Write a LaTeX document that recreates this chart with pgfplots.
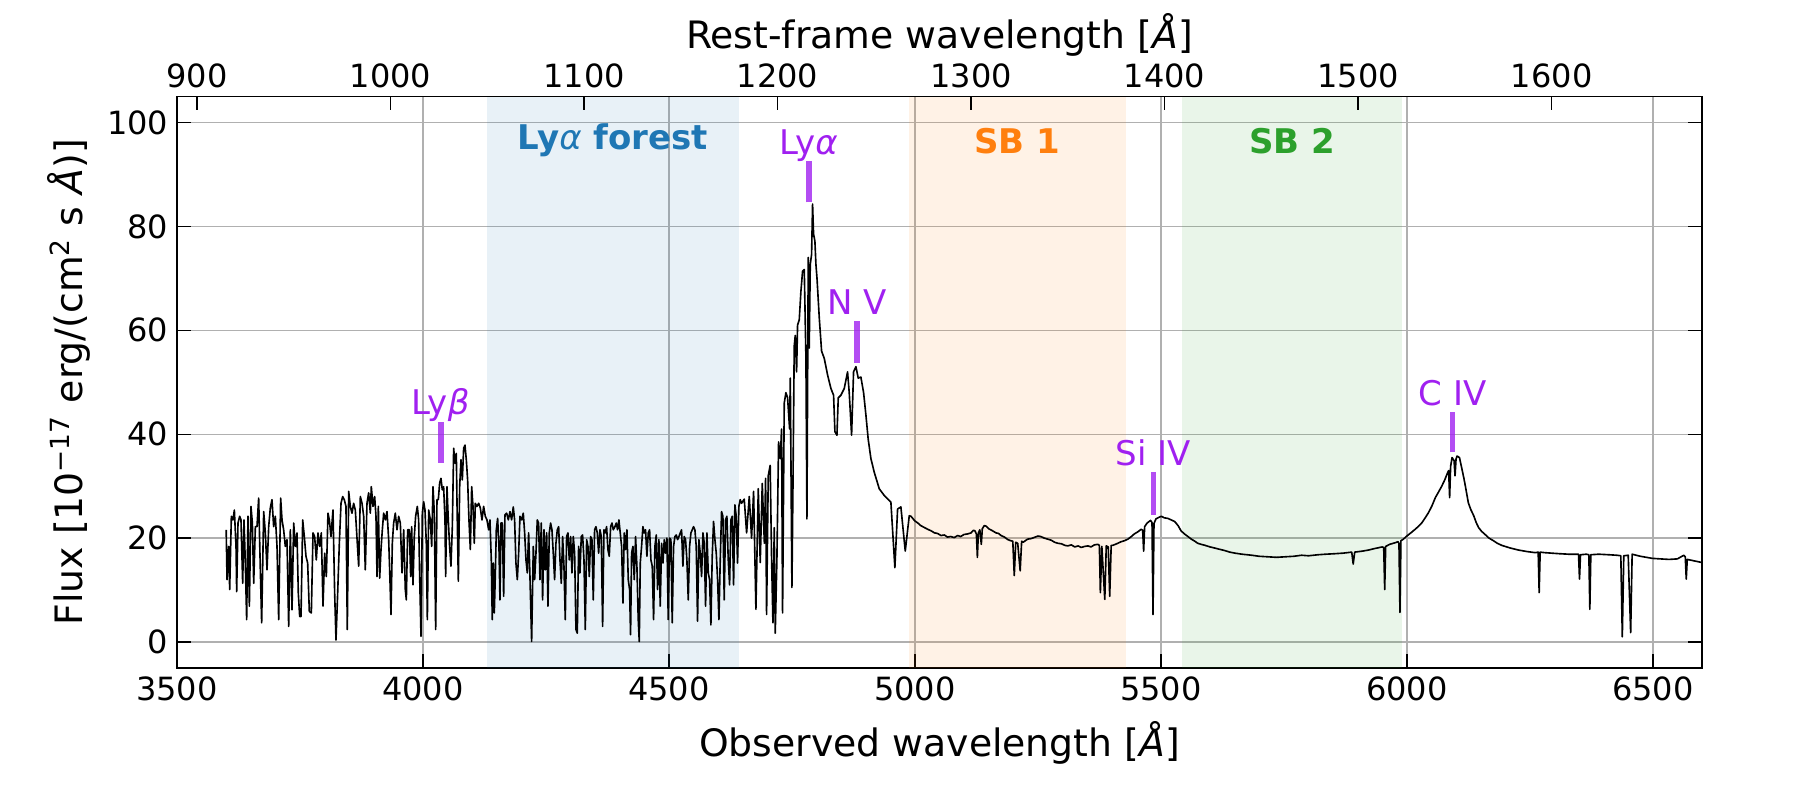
\documentclass[border=0pt]{standalone}
\usepackage{fontspec}
\setmainfont{DejaVu Sans}
\usepackage{pgfplots}
\pgfplotsset{compat=1.18}
\usepackage{pgfplotstable}
\definecolor{tabblue}{HTML}{1F77B4}
\definecolor{taborange}{HTML}{FF7F0E}
\definecolor{tabgreen}{HTML}{2CA02C}
\definecolor{lpurple}{HTML}{A020F0}
\definecolor{gridgray}{HTML}{B0B0B0}

\pgfplotstableread{
lam flux
3600 21.6
3601.7 12.0
3605.1 18.4
3607.1 10.1
3610.5 24.2
3613.9 23.5
3616.6 25.4
3620.0 18.4
3621.3 9.7
3624.0 22.9
3627.4 24.2
3630.1 23.5
3633.5 11.3
3636.2 23.5
3638.9 15.2
3641.6 4.3
3644.3 24.2
3647.1 6.9
3650.4 26.1
3653.2 22.9
3655.9 11.3
3659.3 22.2
3662.6 22.2
3666.0 27.7
3669.4 13.9
3672.1 3.7
3676.2 25.1
3679.6 21.0
3683.0 13.9
3686.4 22.2
3689.7 25.8
3693.1 27.4
3696.5 22.2
3699.9 24.2
3703.3 18.4
3706.7 4.3
3710.7 27.7
3713.5 23.5
3716.8 21.6
3720.2 18.4
3723.6 19.7
3727.0 3.0
3730.4 21.6
3733.8 6.2
3737.2 22.9
3740.6 18.4
3743.9 21.0
3746.6 9.4
3749.4 4.9
3752.1 4.9
3755.5 23.5
3758.8 20.3
3762.2 16.5
3765.6 15.2
3769.0 5.9
3773.1 5.6
3776.5 21.0
3779.8 20.3
3783.2 15.8
3786.6 21.0
3790.0 18.4
3793.4 21.0
3796.8 6.9
3800.2 17.1
3803.6 12.6
3806.9 24.8
3809.7 23.5
3813.0 20.3
3817.1 25.4
3820.5 9.4
3823.2 0.4
3826.6 9.4
3830.0 19.0
3833.4 26.7
3836.8 28.0
3840.1 27.4
3843.5 26.1
3846.2 2.4
3849.0 29.0
3852.3 26.1
3855.7 24.8
3859.1 26.7
3862.5 25.4
3869.3 14.6
3872.7 28.0
3876.1 26.7
3879.5 24.2
3882.8 13.9
3886.2 26.7
3889.6 28.7
3893.0 24.8
3895.0 29.9
3898.4 26.1
3901.8 28.0
3904.5 24.2
3906.6 12.6
3909.3 26.1
3912.0 12.3
3914.7 17.8
3917.4 21.6
3920.1 24.8
3923.5 23.5
3926.9 25.1
3930.3 19.7
3932.3 13.9
3935.0 5.3
3937.7 19.0
3940.4 22.9
3943.8 24.8
3947.2 21.6
3950.6 24.2
3954.0 22.9
3957.4 13.3
3960.8 21.6
3964.1 10.1
3966.2 8.1
3968.9 21.6
3972.3 21.6
3975.0 12.6
3977.0 22.2
3979.7 11.0
3982.4 20.3
3985.1 24.2
3988.5 26.1
3991.2 23.5
3993.3 12.6
3996.0 1.1
3998.7 24.8
4001.4 27.0
4004.1 25.4
4006.8 19.0
4008.9 4.3
4011.6 25.4
4015.0 23.5
4017.7 18.4
4020.4 29.9
4023.1 24.8
4025.8 2.4
4028.5 27.4
4031.2 27.4
4033.9 30.6
4036.6 31.5
4039.3 29.3
4042.0 29.9
4044.8 23.5
4046.1 12.6
4048.8 29.9
4051.5 23.5
4054.2 18.4
4056.9 14.6
4059.7 22.2
4062.4 37.3
4065.1 34.4
4067.8 36.3
4069.2 26.7
4071.9 11.7
4074.6 29.9
4077.3 35.1
4080.0 31.2
4082.7 37.3
4085.4 37.9
4088.1 35.1
4090.8 31.2
4093.5 23.5
4096.3 17.8
4099.0 29.9
4101.7 26.1
4104.4 19.0
4106.4 26.7
4109.8 26.1
4113.2 26.7
4116.6 25.8
4120.0 23.5
4123.3 26.1
4126.7 24.2
4130.1 23.5
4133.5 21.6
4136.2 23.5
4138.9 15.8
4140.9 4.3
4143.0 15.2
4145.0 5.6
4147.0 12.6
4149.1 21.6
4151.8 23.8
4154.5 18.4
4156.5 8.1
4158.6 22.9
4161.3 22.9
4164.0 8.8
4166.7 24.5
4170.1 24.8
4173.5 23.5
4176.9 25.1
4180.2 23.5
4183.6 26.0
4186.3 23.5
4189.0 15.2
4191.8 12.0
4194.5 17.1
4197.2 24.2
4200.6 23.5
4203.9 24.8
4206.7 21.0
4209.4 15.8
4212.1 13.3
4214.8 21.0
4217.5 12.6
4220.9 0.1
4224.3 18.4
4227.0 12.0
4229.7 17.1
4232.4 23.5
4235.1 22.9
4237.8 12.0
4240.5 22.9
4243.2 8.1
4246.0 21.6
4248.7 13.9
4251.4 21.0
4254.1 6.9
4256.8 21.0
4259.5 22.9
4262.2 21.6
4264.9 17.1
4267.6 12.0
4270.3 19.0
4273.1 21.6
4275.8 22.2
4278.5 15.8
4281.2 11.3
4283.9 20.3
4286.6 14.6
4289.3 4.3
4292.0 20.3
4294.7 21.0
4297.4 15.8
4300.2 20.3
4302.9 13.3
4305.6 20.3
4308.3 17.1
4311.0 2.4
4313.7 1.7
4316.4 18.4
4319.1 13.3
4321.8 20.3
4324.5 20.6
4327.3 15.8
4330.0 2.4
4332.7 19.7
4335.4 18.4
4338.1 12.6
4340.8 20.3
4343.5 19.7
4346.2 8.1
4348.9 21.6
4351.6 22.2
4354.4 21.0
4357.1 17.1
4359.8 21.6
4362.5 20.3
4365.2 3.0
4367.9 21.6
4370.6 21.0
4373.3 22.2
4376.0 17.8
4378.7 16.5
4381.5 22.2
4384.2 22.9
4386.9 21.6
4390.2 22.2
4392.9 22.9
4395.6 21.6
4398.3 23.5
4401.0 21.0
4403.8 18.4
4406.5 7.5
4409.2 21.0
4411.9 17.8
4414.6 21.6
4417.3 12.0
4420.0 10.1
4422.0 1.4
4424.1 17.1
4426.8 18.4
4429.5 12.0
4432.2 20.3
4434.9 14.6
4437.6 4.3
4439.7 0.1
4441.7 15.2
4444.4 18.4
4447.1 22.2
4449.8 21.0
4452.5 21.6
4455.2 16.5
4458.0 21.0
4460.7 21.6
4463.4 15.8
4466.1 14.6
4468.8 4.3
4471.5 18.4
4474.2 20.6
4476.9 10.1
4479.6 19.7
4482.3 6.9
4485.1 19.0
4487.8 15.2
4490.5 19.7
4493.2 17.1
4495.9 20.0
4498.6 4.3
4501.3 20.0
4504.0 19.7
4506.7 3.7
4509.4 18.4
4512.2 20.3
4514.9 20.6
4517.6 19.7
4520.3 20.3
4523.0 21.0
4525.7 21.6
4528.4 14.6
4531.1 20.3
4533.8 19.7
4536.5 15.8
4539.3 8.1
4542.0 18.4
4544.7 21.0
4547.4 21.6
4550.1 22.2
4552.8 21.6
4555.5 18.4
4558.2 4.0
4560.9 19.7
4563.6 17.1
4566.4 12.6
4569.1 21.0
4571.8 19.0
4574.5 6.9
4577.2 21.0
4579.9 13.3
4582.6 12.0
4585.3 3.3
4588.0 16.5
4590.7 23.2
4593.5 19.7
4596.2 17.1
4598.9 12.0
4601.6 4.3
4604.3 15.8
4607.0 25.1
4609.7 24.2
4612.4 8.1
4615.1 23.5
4617.8 24.2
4620.6 15.8
4623.3 11.0
4626.0 23.5
4628.7 24.2
4631.4 11.0
4634.1 26.4
4636.8 24.2
4639.5 15.2
4642.2 26.1
4644.9 27.4
4647.6 26.7
4653.1 27.5
4657.9 21.0
4663.3 28.0
4668.0 20.0
4672.1 29.0
4676.8 6.3
4681.6 29.5
4685.6 15.3
4689.7 30.5
4694.0 19.0
4696.5 31.5
4698.5 5.3
4701.9 32.0
4705.8 34.0
4708.7 16.0
4711.4 3.7
4714.1 22.0
4716.1 1.7
4719.5 16.0
4722.9 38.5
4726.3 35.3
4729.0 41.0
4731.0 5.6
4734.4 46.0
4737.8 48.0
4741.2 47.0
4745.3 41.0
4746.7 50.8
4750.0 10.5
4752.0 28.8
4754.7 57.0
4756.8 59.0
4759.5 52.0
4761.5 61.0
4764.9 62.0
4768.3 67.5
4771.7 71.4
4775.1 71.7
4778.5 54.6
4780.5 23.7
4783.2 74.0
4785.2 56.6
4787.3 72.7
4790.0 74.6
4792.0 84.3
4794.0 78.5
4796.7 77.2
4798.8 72.7
4801.0 70.0
4805.6 62.4
4810.3 56.0
4815.7 54.6
4822.5 51.4
4829.3 48.8
4834.7 47.5
4837.4 40.5
4841.5 39.8
4844.2 47.0
4849.6 47.5
4856.4 48.8
4863.1 52.0
4866.5 48.0
4871.3 39.8
4875.3 52.0
4880.1 53.0
4884.8 50.8
4890.2 51.0
4895.7 48.0
4900.4 43.7
4905.1 39.0
4910.6 35.3
4917.3 32.7
4927.5 29.5
4937.7 28.2
4951.2 26.9
4959.3 14.3
4964.8 25.6
4971.5 26.0
4980.4 17.5
4988.5 24.3
4992 24.2
5000 23.3
5006 22.9
5012 22.4
5020 22.0
5026 21.7
5033 21.4
5040 21.0
5046 20.9
5053 20.5
5060 20.6
5066 20.2
5073 20.3
5080 20.1
5087 20.5
5093 20.3
5100 20.7
5107 20.8
5114 21.0
5119 21.5
5122 21.4
5125 20.8
5127 16.3
5129 21.0
5132 21.6
5135 18.8
5137 21.8
5141 22.4
5145 22.3
5150 21.8
5158 21.4
5165 21.0
5170 20.9
5175 20.5
5182 20.2
5189 19.7
5195 19.5
5199 19.4
5202 12.8
5205 19.2
5209 19.0
5214 13.7
5217 19.4
5220 19.2
5229 19.8
5236 19.9
5242 20.1
5250 20.4
5256 20.3
5263 20.0
5270 19.8
5277 19.6
5284 19.2
5291 19.0
5298 18.9
5305 18.6
5311 18.5
5318 18.7
5325 18.3
5332 18.5
5338 18.2
5345 18.4
5352 18.5
5358 18.3
5365 18.7
5372 18.8
5375 18.6
5377 9.5
5380 18.4
5386 8.2
5389 18.5
5393 18.3
5396 8.8
5399 18.6
5402 18.6
5410 18.9
5419 19.3
5426 19.5
5433 19.8
5440 20.3
5446 20.8
5453 21.2
5460 21.7
5463 21.5
5465 17.5
5467 22.2
5472 22.9
5479 23.4
5482 23.0
5484 5.3
5486 22.8
5490 23.7
5496 24.0
5501 24.2
5507 23.9
5514 23.8
5521 23.5
5528 23.2
5535 22.4
5541 21.4
5548 20.8
5555 20.3
5562 19.8
5569 19.4
5575 19.0
5582 18.8
5590 18.6
5600 18.3
5609 18.1
5617 17.9
5630 17.6
5640 17.3
5651 17.1
5665 16.9
5675 16.8
5685 16.7
5700 16.5
5718 16.4
5735 16.3
5752 16.4
5770 16.5
5786 16.7
5800 16.6
5820 16.8
5835 16.9
5854 17.0
5870 17.1
5888 17.3
5891 15.0
5894 17.3
5910 17.5
5922 17.7
5935 18.0
5950 18.3
5953 18.2
5955 10.1
5957 18.4
5965 18.8
5976 19.1
5982 19.3
5984 19.0
5986 5.7
5988 19.5
5993 19.8
6000 20.4
6008 21.0
6017 21.7
6024 22.3
6031 23.0
6038 24.0
6044 24.9
6051 26.2
6058 27.8
6064 28.8
6071 30.0
6077 31.2
6083 32.6
6085 33.0
6087 27.8
6089 33.8
6092 35.5
6096 34.9
6098 32.0
6100 35.2
6102 35.8
6107 35.5
6112 33.3
6116 31.5
6119 30.0
6125 26.8
6130 25.5
6136 24.3
6141 23.0
6146 22.0
6152 21.3
6159 20.7
6167 20.0
6176 19.5
6184 19.0
6193 18.6
6210 18.1
6227 17.7
6245 17.4
6261 17.2
6267 17.3
6269 9.5
6271 17.3
6280 17.2
6295 17.1
6310 17.0
6329 16.9
6340 16.9
6349 16.9
6351 12.1
6353 16.8
6365 16.9
6370 16.8
6372 6.3
6374 16.8
6390 16.9
6410 16.8
6427 16.7
6435 16.6
6438 1.0
6441 16.6
6450 16.7
6455 1.8
6458 16.9
6475 16.5
6499 16.1
6515 16.0
6533 15.9
6550 16.0
6563 16.7
6566 16.4
6568 12.1
6570 15.9
6585 15.6
6600 15.3
}\spec

\begin{document}
\begin{tikzpicture}
\useasboundingbox (-70.8pt,-47.6pt) rectangle (649.2pt,267.2pt);
\begin{axis}[
  at={(0pt,0pt)}, anchor=south west,
  scale only axis, width=610pt, height=228.6pt,
  xmin=3500, xmax=6600, ymin=-5, ymax=105,
  xtick={3500,4000,...,6500}, ytick={0,20,...,100},
  xtick pos=bottom, ytick pos=both,
  tick align=inside, major tick length=5.6pt,
  grid=major, major grid style={gridgray, line width=0.55pt},
  axis line style={line width=0.6pt},
  every tick/.style={black, line width=0.55pt},
  tick label style={font=\fontsize{12.8}{15}\selectfont},
  label style={font=\fontsize{15.1}{18}\selectfont},
  xlabel style={yshift=-1.5pt},
  /pgf/number format/assume math mode=true,
  /pgf/number format/1000 sep={},
  scaled ticks=false,
  xlabel={Observed wavelength [\textit{Å}]},
  ylabel={Flux [10\textsuperscript{−17} erg/(cm\textsuperscript{2} s \textit{Å})]},
]
\addplot[draw=none, fill=tabblue, fill opacity=0.1] coordinates {(4131,-5) (4131,105) (4642,105) (4642,-5)} -- cycle;
\addplot[draw=none, fill=taborange, fill opacity=0.1] coordinates {(4988,-5) (4988,105) (5429,105) (5429,-5)} -- cycle;
\addplot[draw=none, fill=tabgreen, fill opacity=0.1] coordinates {(5543,-5) (5543,105) (5991,105) (5991,-5)} -- cycle;

\addplot[black, line width=0.65pt, line join=round] table[x=lam, y=flux] {\spec};

\addplot[lpurple, opacity=0.8, line width=2.3pt] coordinates {(4036,34.5) (4036,42.4)};
\addplot[lpurple, opacity=0.8, line width=2.3pt] coordinates {(4784,84.6) (4784,92.6)};
\addplot[lpurple, opacity=0.8, line width=2.3pt] coordinates {(4882,53.7) (4882,61.7)};
\addplot[lpurple, opacity=0.8, line width=2.3pt] coordinates {(5485,24.5) (5485,32.7)};
\addplot[lpurple, opacity=0.8, line width=2.3pt] coordinates {(6093,36.5) (6093,44.3)};

\node[anchor=base, text=lpurple, font=\fontsize{13.6}{16}\selectfont, inner sep=0pt] at (axis cs:4036,43.8) {Ly\textit{β}};
\node[anchor=base, text=lpurple, font=\fontsize{13.6}{16}\selectfont, inner sep=0pt] at (axis cs:4784,93.9) {Ly\textit{α}};
\node[anchor=base, text=lpurple, font=\fontsize{13.6}{16}\selectfont, inner sep=0pt] at (axis cs:4882,63.0) {N V};
\node[anchor=base, text=lpurple, font=\fontsize{13.6}{16}\selectfont, inner sep=0pt] at (axis cs:5485,34.0) {Si IV};
\node[anchor=base, text=lpurple, font=\fontsize{13.6}{16}\selectfont, inner sep=0pt] at (axis cs:6093,45.6) {C IV};

\node[text=tabblue, font=\bfseries\fontsize{13.6}{16}\selectfont] at (axis cs:4386,96.5) {Ly\textmd{\textit{α}} forest};
\node[text=taborange, font=\bfseries\fontsize{13.6}{16}\selectfont] at (axis cs:5208,96.5) {SB 1};
\node[text=tabgreen, font=\bfseries\fontsize{13.6}{16}\selectfont] at (axis cs:5767,96.5) {SB 2};
\end{axis}

\begin{axis}[
  at={(0pt,0pt)}, anchor=south west,
  scale only axis, width=610pt, height=228.6pt,
  xmin=889.68, xmax=1677.68, ymin=-5, ymax=105,
  axis x line*=top, axis y line=none,
  xtick={900,1000,...,1600},
  tick align=inside, major tick length=5.6pt,
  axis line style={line width=0.6pt},
  every tick/.style={black, line width=0.55pt},
  tick label style={font=\fontsize{12.8}{15}\selectfont},
  label style={font=\fontsize{15.1}{18}\selectfont},
  xlabel style={yshift=-4pt},
  /pgf/number format/assume math mode=true,
  /pgf/number format/1000 sep={},
  scaled ticks=false,
  xlabel={Rest-frame wavelength [\textit{Å}]},
]
\addplot[draw=none] coordinates {(900,0) (1600,0)};
\end{axis}
\end{tikzpicture}
\end{document}
